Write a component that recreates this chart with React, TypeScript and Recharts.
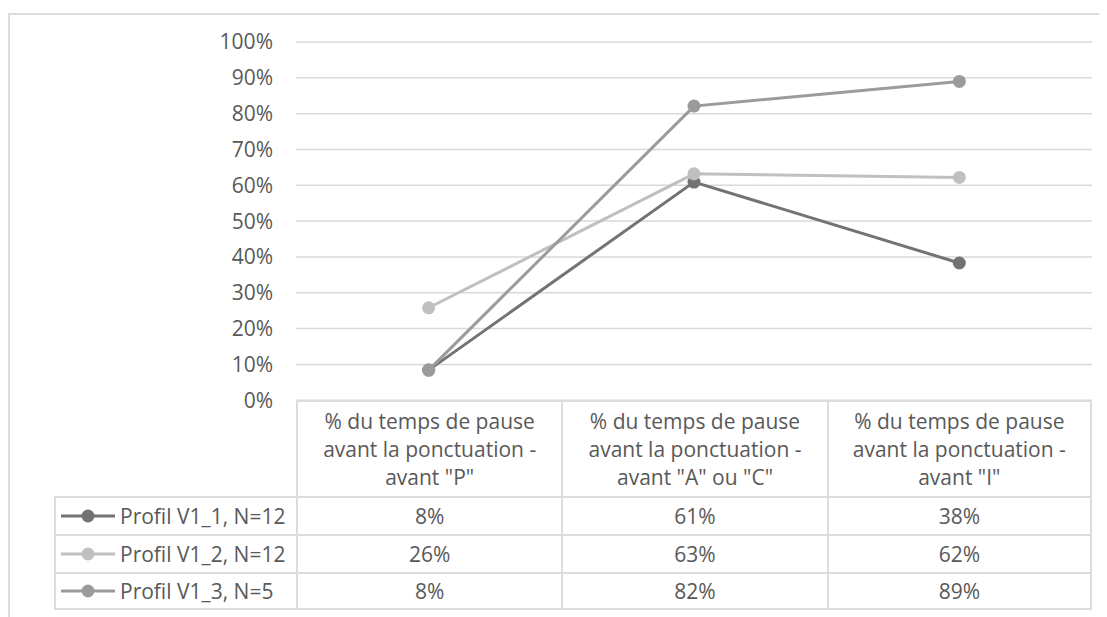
import React from 'react';
import { LineChart, Line, XAxis, YAxis, CartesianGrid } from 'recharts';

const categories = [
  '% du temps de pause\navant la ponctuation -\navant "P"',
  '% du temps de pause\navant la ponctuation -\navant "A" ou "C"',
  '% du temps de pause\navant la ponctuation -\navant "I"',
];
const seriesNames = ['Profil V1_1, N=12', 'Profil V1_2, N=12', 'Profil V1_3, N=5'];
const profilV1_1 = [8.4, 60.9, 38.3];
const profilV1_2 = [25.8, 63.2, 62.2];
const profilV1_3 = [8.4, 82.1, 89.0];
const yTicks = [0, 10, 20, 30, 40, 50, 60, 70, 80, 90, 100];

const seriesValues = [profilV1_1, profilV1_2, profilV1_3];
const seriesKeys = ['s1', 's2', 's3'];
const colors = ['#737373', '#c0c0c0', '#9b9b9b'];

const data = categories.map((c, i) => ({
  name: c,
  s1: profilV1_1[i],
  s2: profilV1_2[i],
  s3: profilV1_3[i],
}));

const W = 1099;
const CHART_H = 420;
const PLOT_L = 288;
const PLOT_R = 1084;
const PLOT_T = 34;
const PLOT_B = 392.2;
const TEXT = '#595959';
const BORDER = '#dcdcdc';
const FONT = '"Open Sans", sans-serif';
const FS = 21;

const colW = (PLOT_R - PLOT_L) / categories.length;
const HEADER_TOP = 392;
const HEADER_H = 96;
const ROW_H = 38;
const LEG_L = 46;

export default function App() {
  return (
    <div style={{ position: 'relative', width: W, height: 609, fontFamily: FONT, color: TEXT }}>
      <div
        style={{
          position: 'absolute',
          left: 0,
          top: 5,
          right: 0,
          bottom: 0,
          borderLeft: `2px solid ${BORDER}`,
          borderTop: `2px solid ${BORDER}`,
          boxSizing: 'border-box',
        }}
      />
      <div style={{ position: 'absolute', left: 0, top: 0 }}>
        <LineChart
          width={W}
          height={CHART_H}
          data={data}
          margin={{ top: PLOT_T, right: W - PLOT_R, bottom: CHART_H - PLOT_B, left: 0 }}
        >
          <CartesianGrid vertical={false} stroke="#d9d9d9" strokeWidth={1.5} />
          <XAxis dataKey="name" hide scale="band" />
          <YAxis
            width={PLOT_L}
            domain={[0, 100]}
            ticks={yTicks}
            interval={0}
            tickFormatter={(v) => `${v}%`}
            axisLine={false}
            tickLine={false}
            tickSize={0}
            tickMargin={23}
            tick={{ fill: TEXT, fontSize: FS, fontFamily: FONT }}
          />
          {seriesKeys.map((k, i) => (
            <Line
              key={k}
              dataKey={k}
              name={seriesNames[i]}
              stroke={colors[i]}
              strokeWidth={3}
              dot={{ r: 6.5, fill: colors[i], stroke: 'none' }}
              activeDot={false}
              isAnimationActive={false}
            />
          ))}
        </LineChart>
      </div>

      {/* data table header */}
      {categories.map((c, i) => (
        <div
          key={`h${i}`}
          style={{
            position: 'absolute',
            left: PLOT_L + i * colW,
            top: HEADER_TOP,
            width: colW,
            height: HEADER_H,
            boxSizing: 'border-box',
            borderLeft: `2px solid ${BORDER}`,
            borderTop: `2px solid ${BORDER}`,
            borderRight: i === categories.length - 1 ? `2px solid ${BORDER}` : 'none',
            display: 'flex',
            alignItems: 'center',
            justifyContent: 'center',
            textAlign: 'center',
            whiteSpace: 'pre-line',
            fontSize: FS,
            lineHeight: '28px',
            background: '#fff',
          }}
        >
          {c}
        </div>
      ))}

      {/* data table rows */}
      {seriesNames.map((n, r) => (
        <React.Fragment key={`r${r}`}>
          <div
            style={{
              position: 'absolute',
              left: LEG_L,
              top: HEADER_TOP + HEADER_H + r * ROW_H,
              width: PLOT_L - LEG_L,
              height: ROW_H,
              boxSizing: 'border-box',
              borderLeft: `2px solid ${BORDER}`,
              borderTop: `2px solid ${BORDER}`,
              borderBottom: r === seriesNames.length - 1 ? `2px solid ${BORDER}` : 'none',
              display: 'flex',
              alignItems: 'center',
              fontSize: FS,
              whiteSpace: 'nowrap',
            }}
          >
            <svg width={58} height={16} style={{ marginLeft: 3, marginRight: 3, flexShrink: 0 }}>
              <line x1={2} y1={8} x2={56} y2={8} stroke={colors[r]} strokeWidth={3} />
              <circle cx={29} cy={8} r={6.5} fill={colors[r]} />
            </svg>
            <span>{n}</span>
          </div>
          {seriesValues[r].map((v, i) => (
            <div
              key={`c${r}-${i}`}
              style={{
                position: 'absolute',
                left: PLOT_L + i * colW,
                top: HEADER_TOP + HEADER_H + r * ROW_H,
                width: colW,
                height: ROW_H,
                boxSizing: 'border-box',
                borderLeft: `2px solid ${BORDER}`,
                borderTop: `2px solid ${BORDER}`,
                borderRight: i === categories.length - 1 ? `2px solid ${BORDER}` : 'none',
                borderBottom: r === seriesNames.length - 1 ? `2px solid ${BORDER}` : 'none',
                display: 'flex',
                alignItems: 'center',
                justifyContent: 'center',
                fontSize: FS,
              }}
            >
              {`${Math.round(v)}%`}
            </div>
          ))}
        </React.Fragment>
      ))}
    </div>
  );
}
